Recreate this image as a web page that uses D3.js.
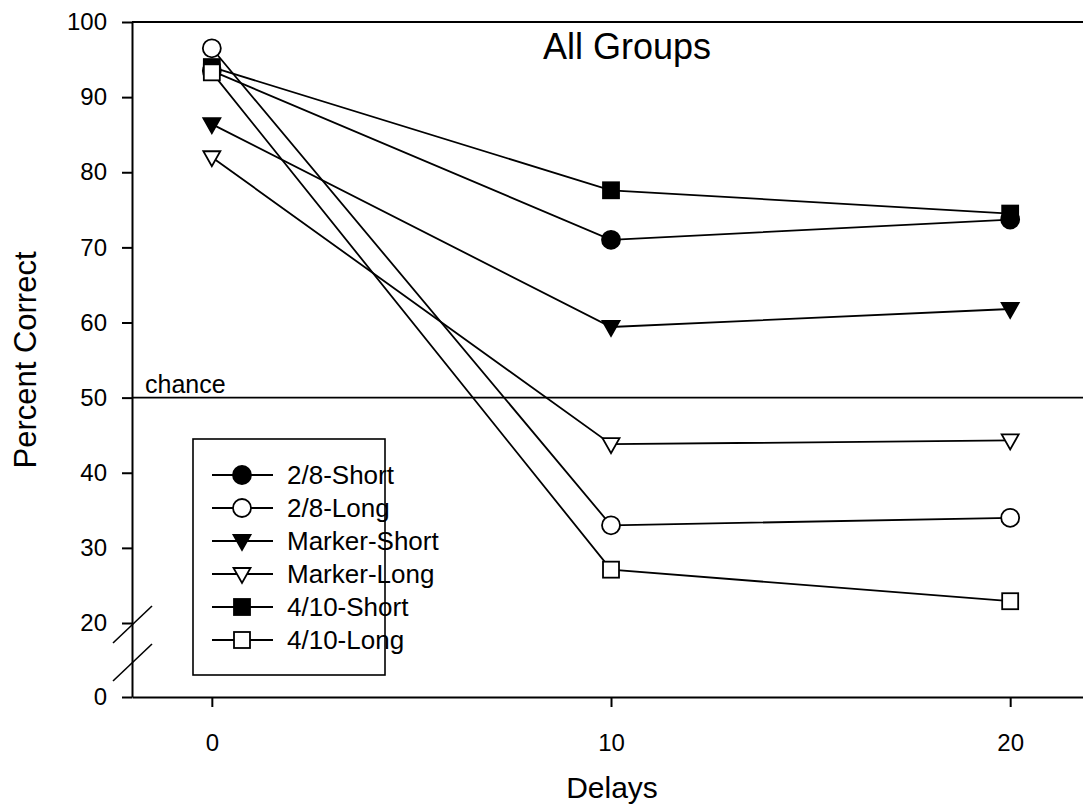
<!DOCTYPE html>
<html>
<head>
<meta charset="utf-8">
<script src="https://cdn.jsdelivr.net/npm/d3@7"></script>
<style>
  body { margin: 0; background: #fff; }
  svg { display: block; font-family: "Liberation Sans", Arial, sans-serif; }
</style>
</head>
<body>
<svg id="chart" width="1083" height="807"></svg>
<script>
// Delays (x values) and tick labels
const delays = [0, 10, 20];
const xTicks = [0, 10, 20];
const yTicks = [0, 20, 30, 40, 50, 60, 70, 80, 90, 100];

// Percent correct for each group
const groupNames = ["2/8-Short", "2/8-Long", "Marker-Short", "Marker-Long", "4/10-Short", "4/10-Long"];
const short28 = [93.5, 71.0, 73.7];
const long28 = [96.5, 33.0, 34.0];
const markerShort = [86.4, 59.4, 61.8];
const markerLong = [82.0, 43.8, 44.3];
const short410 = [94.0, 77.6, 74.5];
const long410 = [93.3, 27.1, 22.9];

const chanceLevel = 50;
const chartTitle = "All Groups";

const series = [
  { name: groupNames[0], values: short28, shape: "circle", filled: true },
  { name: groupNames[1], values: long28, shape: "circle", filled: false },
  { name: groupNames[2], values: markerShort, shape: "triangle", filled: true },
  { name: groupNames[3], values: markerLong, shape: "triangle", filled: false },
  { name: groupNames[4], values: short410, shape: "square", filled: true },
  { name: groupNames[5], values: long410, shape: "square", filled: false }
];

const svg = d3.select("#chart");

// Scales: broken y axis (0 .. 20 squeezed), linear x
const x = d3.scaleLinear().domain([-2, 22.2]).range([132, 1098]);
const y = d3.scaleLinear().domain([0, 20, 100]).range([697, 623, 22]);

const axisLeftX = 132;

// Y axis
const yAxis = svg.append("g")
  .attr("transform", `translate(${axisLeftX},0)`)
  .call(d3.axisLeft(y).tickValues(yTicks).tickSize(10).tickSizeOuter(0).tickPadding(15));
yAxis.select(".domain").attr("stroke-width", 2);
yAxis.selectAll(".tick line").attr("stroke-width", 2);
yAxis.selectAll("text").style("font-size", "24px").attr("fill", "#000");

// X axis
const xAxis = svg.append("g")
  .attr("transform", `translate(0,${y(0)})`)
  .call(d3.axisBottom(x).tickValues(xTicks).tickSize(10).tickSizeOuter(0).tickPadding(27));
xAxis.select(".domain").attr("stroke-width", 2);
xAxis.selectAll(".tick line").attr("stroke-width", 2);
xAxis.selectAll("text").style("font-size", "24px").attr("fill", "#000");

// Top frame line
svg.append("line")
  .attr("x1", axisLeftX).attr("x2", x.range()[1])
  .attr("y1", y(100)).attr("y2", y(100))
  .attr("stroke", "#000").attr("stroke-width", 2);

// Axis break marks
const y20 = y(20);
[[20, -17], [58, 21]].forEach(([a, b]) => {
  svg.append("line")
    .attr("x1", axisLeftX - 19).attr("y1", y20 + a)
    .attr("x2", axisLeftX + 20).attr("y2", y20 + b)
    .attr("stroke", "#000").attr("stroke-width", 1.6);
});

// Chance line
svg.append("line")
  .attr("x1", axisLeftX).attr("x2", x.range()[1])
  .attr("y1", y(chanceLevel)).attr("y2", y(chanceLevel))
  .attr("stroke", "#000").attr("stroke-width", 1.6);
svg.append("text")
  .attr("x", 145).attr("y", y(chanceLevel) - 5)
  .style("font-size", "25px")
  .text("chance");

// Marker drawing helper
function drawMarker(g, shape, filled, cx, cy) {
  const fill = filled ? "#000" : "#fff";
  let m;
  if (shape === "circle") {
    m = g.append("circle").attr("cx", cx).attr("cy", cy).attr("r", 9);
  } else if (shape === "square") {
    m = g.append("rect").attr("x", cx - 8).attr("y", cy - 8).attr("width", 16).attr("height", 16);
  } else {
    m = g.append("path").attr("d", `M${cx - 8.5},${cy - 6}L${cx + 8.5},${cy - 6}L${cx},${cy + 9}Z`);
  }
  m.attr("fill", fill).attr("stroke", "#000").attr("stroke-width", 1.8);
}

// Lines and markers
const line = d3.line().x(d => x(d[0])).y(d => y(d[1]));
series.forEach(s => {
  const pts = delays.map((d, i) => [d, s.values[i]]);
  const g = svg.append("g");
  g.append("path")
    .attr("d", line(pts))
    .attr("fill", "none")
    .attr("stroke", "#000")
    .attr("stroke-width", 1.8);
  pts.forEach(p => drawMarker(g, s.shape, s.filled, x(p[0]), y(p[1])));
});

// Legend
const legend = svg.append("g");
legend.append("rect")
  .attr("x", 193).attr("y", 439).attr("width", 192).attr("height", 236)
  .attr("fill", "#fff").attr("stroke", "#000").attr("stroke-width", 1.6);
series.forEach((s, i) => {
  const ly = 475 + i * 33;
  const g = legend.append("g");
  g.append("line")
    .attr("x1", 212).attr("x2", 273).attr("y1", ly).attr("y2", ly)
    .attr("stroke", "#000").attr("stroke-width", 1.8);
  drawMarker(g, s.shape, s.filled, 242, ly);
  g.append("text")
    .attr("x", 287).attr("y", ly)
    .attr("dy", "0.35em")
    .style("font-size", "26px")
    .text(s.name);
});

// Title and axis labels
svg.append("text")
  .attr("x", 627).attr("y", 59)
  .attr("text-anchor", "middle")
  .style("font-size", "36px")
  .text(chartTitle);

svg.append("text")
  .attr("x", 612).attr("y", 798)
  .attr("text-anchor", "middle")
  .style("font-size", "30px")
  .text("Delays");

svg.append("text")
  .attr("transform", "translate(36,360) rotate(-90)")
  .attr("text-anchor", "middle")
  .style("font-size", "31px")
  .text("Percent Correct");
</script>
</body>
</html>
